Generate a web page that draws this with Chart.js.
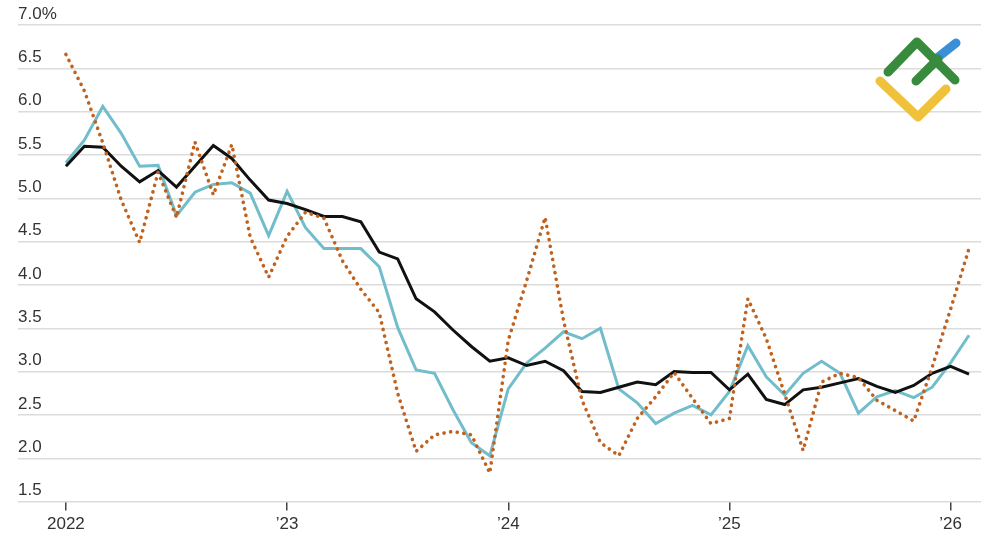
<!DOCTYPE html>
<html>
<head>
<meta charset="utf-8">
<script src="https://cdn.jsdelivr.net/npm/chart.js@4.4.1/dist/chart.umd.min.js"></script>
<style>
  html, body { margin: 0; padding: 0; background: #fff; }
  #wrap { width: 1000px; height: 545px; position: relative; }
</style>
</head>
<body>
<div id="wrap"><canvas id="chart"></canvas></div>
<script>
// monthly, Jan 2022 .. Feb 2026
var months = [];
for (var m = 0; m < 50; m++) months.push(m);

var yearTicks = [0, 12, 24, 36, 48];
var yearLabels = ['2022', '\u201923', '\u201924', '\u201925', '\u201926'];

var blackLine = [5.37, 5.60, 5.59, 5.37, 5.19, 5.32, 5.13, 5.37, 5.61, 5.46,
	5.21, 4.98, 4.94, 4.87, 4.79, 4.79, 4.73, 4.38, 4.30, 3.84,
	3.69, 3.48, 3.29, 3.12, 3.16, 3.07, 3.12, 3.01, 2.77, 2.76,
	2.82, 2.88, 2.85, 3.00, 2.99, 2.99, 2.79, 2.97, 2.68, 2.62,
	2.79, 2.82, 2.87, 2.92, 2.83, 2.76, 2.84, 2.98, 3.06, 2.97];

var blueLine = [5.41, 5.67, 6.06, 5.75, 5.37, 5.38, 4.80, 5.07, 5.16, 5.18,
	5.06, 4.57, 5.08, 4.66, 4.42, 4.42, 4.42, 4.21, 3.51, 3.02,
	2.98, 2.56, 2.18, 2.03, 2.80, 3.10, 3.27, 3.46, 3.38, 3.50,
	2.80, 2.64, 2.40, 2.52, 2.61, 2.50, 2.77, 3.30, 2.94, 2.73,
	2.98, 3.12, 2.98, 2.52, 2.71, 2.78, 2.70, 2.82, 3.10, 3.42];

var dottedLine = [6.66, 6.24, 5.64, 4.98, 4.49, 5.30, 4.78, 5.65, 5.04, 5.62,
	4.55, 4.09, 4.56, 4.84, 4.77, 4.28, 3.95, 3.68, 2.75, 2.08,
	2.27, 2.31, 2.27, 1.83, 3.36, 4.05, 4.78, 3.59, 2.67, 2.18,
	2.03, 2.46, 2.71, 2.99, 2.69, 2.40, 2.46, 3.84, 3.38, 2.74,
	2.09, 2.88, 2.98, 2.93, 2.67, 2.55, 2.43, 3.05, 3.72, 4.42];

function pts(arr) {
	return arr.map(function (v, i) { return { x: months[i], y: v }; });
}

var FONT = "'Liberation Sans', 'DejaVu Sans', sans-serif";

// little logo in the upper right corner
var logoPlugin = {
	id: 'logo',
	afterDraw: function (chart) {
		var c = chart.ctx;
		c.save();
		c.lineCap = 'round';
		c.lineJoin = 'round';
		c.lineWidth = 9;
		c.strokeStyle = '#3a8fd8';
		c.beginPath(); c.moveTo(937, 58); c.lineTo(956, 43); c.stroke();
		c.strokeStyle = '#388a3c';
		c.beginPath(); c.moveTo(888, 72); c.lineTo(917, 42); c.lineTo(955, 80); c.stroke();
		c.beginPath(); c.moveTo(916, 81); c.lineTo(938, 59); c.stroke();
		c.strokeStyle = '#f0c23c';
		c.beginPath(); c.moveTo(880, 81); c.lineTo(918, 117); c.lineTo(946, 89); c.stroke();
		c.restore();
	}
};

new Chart(document.getElementById('chart'), {
	type: 'line',
	data: {
		datasets: [{
			data: pts(blueLine),
			borderColor: '#72bdcb',
			borderWidth: 3,
			pointRadius: 0,
			tension: 0,
			order: 3
		}, {
			data: pts(blackLine),
			borderColor: '#111',
			borderWidth: 3,
			pointRadius: 0,
			tension: 0,
			order: 2
		}, {
			data: pts(dottedLine),
			borderColor: '#c0621e',
			borderWidth: 3.6,
			borderDash: [0.1, 6.6],
			borderCapStyle: 'round',
			pointRadius: 0,
			tension: 0,
			order: 1
		}]
	},
	options: {
		responsive: true,
		maintainAspectRatio: false,
		animation: false,
		layout: { padding: { left: 18, right: 19, top: 25, bottom: 6 } },
		plugins: { legend: { display: false }, tooltip: { enabled: false } },
		scales: {
			x: {
				type: 'linear',
				min: -2.6,
				max: 49.65,
				afterBuildTicks: function (scale) {
					scale.ticks = yearTicks.map(function (v) { return { value: v }; });
				},
				grid: { drawOnChartArea: false, drawTicks: true, tickLength: 9, color: '#444', lineWidth: 1.5 },
				border: { display: false },
				ticks: {
					padding: 4,
					maxRotation: 0,
					autoSkip: false,
					color: '#333',
					font: { family: FONT, size: 17 },
					callback: function (v) {
						var k = yearTicks.indexOf(v);
						return k < 0 ? '' : yearLabels[k];
					}
				}
			},
			y: {
				min: 1.5,
				max: 7.0,
				afterFit: function (scale) { scale.width = 0; },
				grid: { drawTicks: false, color: '#dcdcdc', lineWidth: 1.5 },
				border: { display: false },
				ticks: {
					stepSize: 0.5,
					mirror: true,
					padding: 0,
					labelOffset: -11,
					color: '#333',
					font: { family: FONT, size: 17 },
					callback: function (v) {
						return v === 7 ? '7.0%' : v.toFixed(1);
					}
				}
			}
		}
	},
	plugins: [logoPlugin]
});
</script>
</body>
</html>
